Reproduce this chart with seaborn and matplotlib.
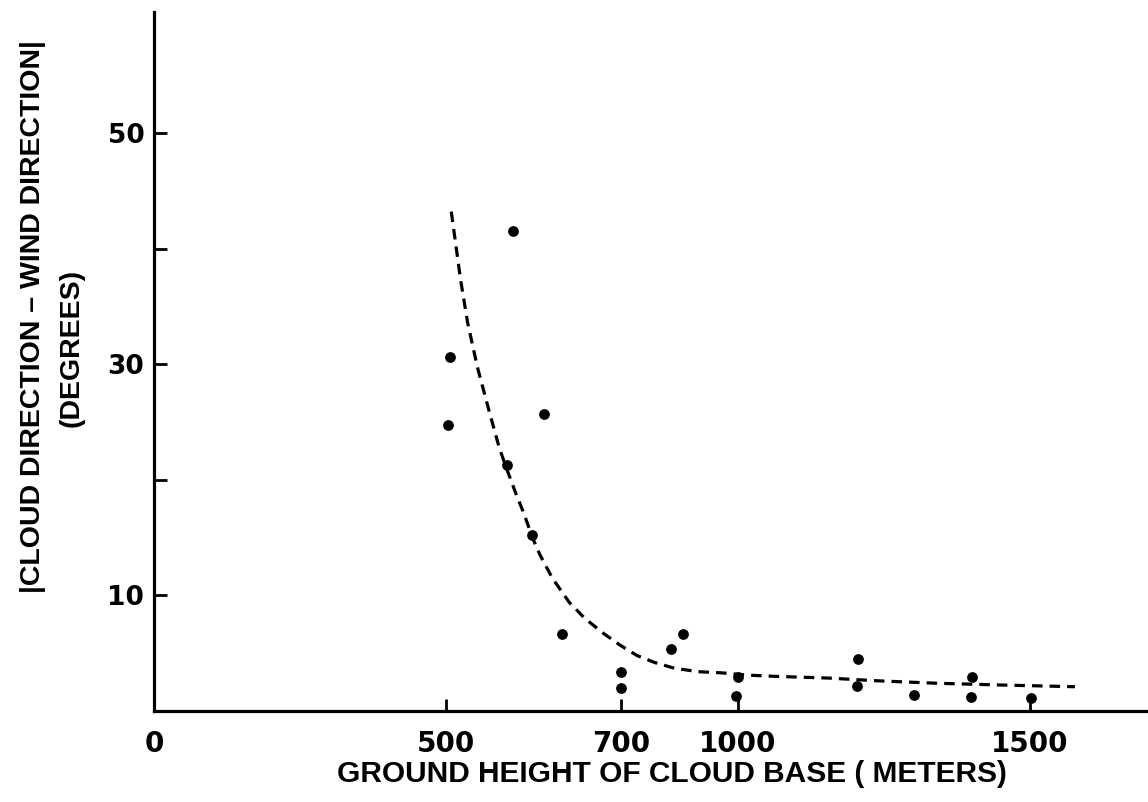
import matplotlib
matplotlib.use("Agg")
import matplotlib.pyplot as plt
import seaborn as sns
import pandas as pd

# Observed |cloud direction - wind direction| against cloud base height
base_height_m = [504, 506, 615, 605, 668, 648, 699, 800, 800, 886, 905,
                 997, 1000, 1203, 1205, 1301, 1399, 1401, 1502]
direction_diff_deg = [24.7, 30.6, 41.5, 21.3, 25.7, 15.2, 6.7, 3.4, 2.0, 5.4, 6.7,
                      1.3, 2.9, 2.2, 4.5, 1.4, 1.2, 2.9, 1.1]

# Hand-fitted trend curve
curve_height_m = [509, 525, 537, 554, 573, 591, 605, 619, 634, 648, 661, 682,
                  711, 738, 770, 798, 827, 857, 891, 932, 972, 1018, 1062,
                  1154, 1244, 1341, 1449, 1577]
curve_diff_deg = [43.2, 37.3, 33.6, 29.7, 26.1, 22.8, 20.8, 18.9, 17.0, 15.0,
                  13.5, 11.5, 9.4, 8.0, 6.7, 5.7, 4.8, 4.2, 3.7, 3.4, 3.3, 3.1,
                  3.0, 2.85, 2.6, 2.4, 2.25, 2.1]

# Axis ticks (the third label on the original plate reads 700)
x_tick_pos = [0, 500, 800, 1000, 1500]
x_tick_labels = ["0", "500", "700", "1000", "1500"]
y_tick_pos = [10, 20, 30, 40, 50]
y_tick_labels = ["10", "", "30", "", "50"]

obs = pd.DataFrame({"height": base_height_m, "diff": direction_diff_deg})
fit = pd.DataFrame({"height": curve_height_m, "diff": curve_diff_deg})

sns.set_style("ticks")
plt.rcParams["font.family"] = ["DejaVu Sans"]
plt.rcParams["text.color"] = "black"
plt.rcParams["axes.labelcolor"] = "black"

W, H = 1148, 802
fig = plt.figure(figsize=(W / 100, H / 100), dpi=100)
left, bottom, top = 154, 711, 12
ax = fig.add_axes([left / W, 1 - bottom / H, (W - left) / W, (bottom - top) / H])

sns.lineplot(data=fit, x="height", y="diff", ax=ax, sort=False, color="black",
             linewidth=2.3, linestyle=(0, (3.3, 2.2)))
sns.scatterplot(data=obs, x="height", y="diff", ax=ax, color="black", s=60,
                edgecolor="black", linewidth=0, zorder=3)

ax.set_xlim(0, (W - left) / 0.584)
ax.set_ylim(0, (bottom - top) / 11.56)

for side in ("top", "right"):
    ax.spines[side].set_visible(False)
for side in ("left", "bottom"):
    ax.spines[side].set_linewidth(2.3)
    ax.spines[side].set_color("black")

ax.set_xticks(x_tick_pos)
ax.set_xticklabels(x_tick_labels, fontsize=20, fontweight="bold")
ax.set_yticks(y_tick_pos)
ax.set_yticklabels(y_tick_labels, fontsize=19, fontweight="bold")
ax.tick_params(axis="x", direction="in", length=9, width=2.0, pad=14, colors="black")
ax.tick_params(axis="y", direction="in", length=9, width=2.0, pad=7, colors="black")

label_font = ["Liberation Sans", "DejaVu Sans"]
ax.set_xlabel("GROUND HEIGHT OF CLOUD BASE ( METERS)", fontsize=21.5, fontweight="bold",
              family=label_font)
ax.xaxis.set_label_coords((672 - left) / (W - left), -(760 - bottom) / (bottom - top))
ax.set_ylabel("")

fig.text(33 / W, 1 - 317 / H, "|CLOUD DIRECTION \u2013 WIND DIRECTION|", rotation=90,
         ha="center", va="center", fontsize=20.5, fontweight="bold", family=label_font)
fig.text(72 / W, 1 - 348 / H, "(DEGREES)", rotation=90,
         ha="center", va="center", fontsize=20.5, fontweight="bold", family=label_font)

fig.savefig("out.png", dpi=100)
